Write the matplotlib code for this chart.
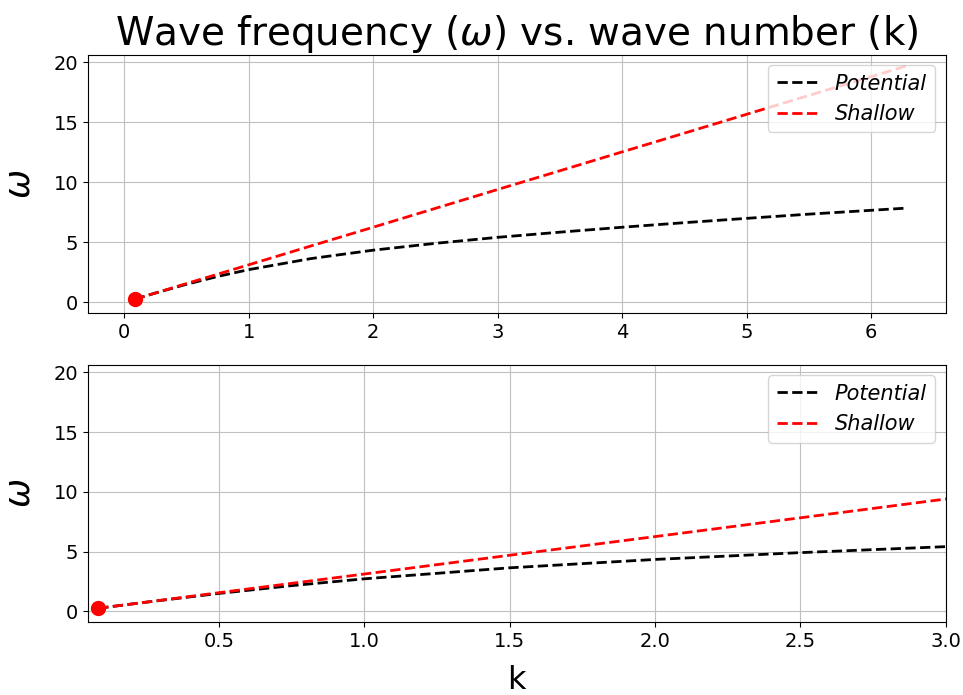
import matplotlib
matplotlib.use("Agg")
import matplotlib.pyplot as plt

# values
k_vals = [0.085, 0.25, 0.5, 0.75, 1.0, 1.5, 2.0, 2.5, 3.0, 3.5, 4.0, 4.5, 5.0, 5.5, 6.0, 6.28]
omega_potential = [0.27, 0.78, 1.51, 2.16, 2.73, 3.65, 4.35, 4.92, 5.42, 5.85, 6.26, 6.64, 7.00, 7.35, 7.67, 7.85]
omega_shallow = [0.27, 0.78, 1.57, 2.35, 3.13, 4.70, 6.26, 7.83, 9.40, 10.96, 12.53, 14.09, 15.66, 17.23, 18.79, 19.67]
point_k = [0.085]
point_omega = [0.27]

fig = plt.figure(figsize=(9.63, 6.95), dpi=100)
ax1 = fig.add_axes([0.0914, 0.5496, 0.8906, 0.3713])
ax2 = fig.add_axes([0.0914, 0.1050, 0.8906, 0.3698])

for ax in (ax1, ax2):
    ax.plot(k_vals, omega_potential, 'k--', lw=2, label='Potential')
    ax.plot(k_vals, omega_shallow, 'r--', lw=2, label='Shallow')
    ax.plot(point_k, point_omega, 'ro', ms=10)
    ax.grid(True, color='#c0c0c0')
    ax.set_ylim(-0.88, 20.6)
    ax.set_yticks([0, 5, 10, 15, 20])
    ax.tick_params(labelsize=14)
    ax.set_ylabel(r'$\omega$', fontsize=25, labelpad=12)
    leg = ax.legend(loc='upper right', prop={'style': 'italic', 'size': 15})

ax1.set_xlim(-0.29, 6.6)
ax2.set_xlim(0.05, 3.0)
ax2.set_xticks([0.5, 1.0, 1.5, 2.0, 2.5, 3.0])
ax2.set_xlabel('k', fontsize=23, labelpad=10)
ax1.set_title(r'Wave frequency ($\omega$) vs. wave number (k)', fontsize=28)

fig.savefig('out.png', dpi=100)
